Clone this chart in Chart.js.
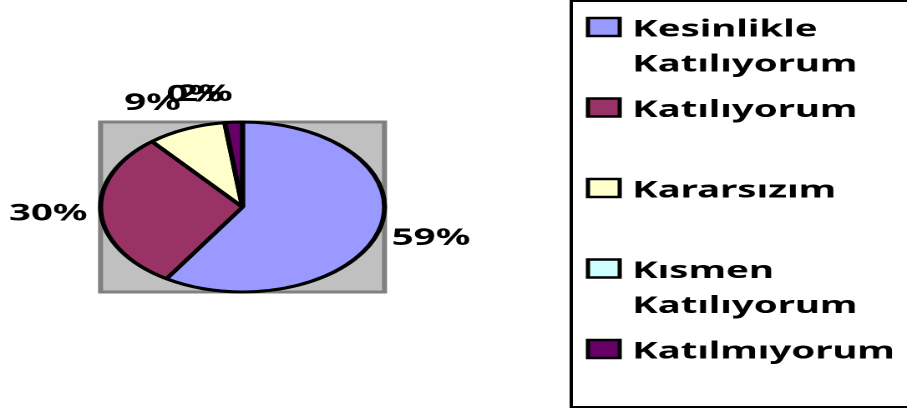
<!DOCTYPE html>
<html>
<head>
<meta charset="utf-8">
<script src="https://cdn.jsdelivr.net/npm/chart.js@4/dist/chart.umd.min.js"></script>
<style>
html, body { margin: 0; padding: 0; background: #fff; overflow: hidden; }
#wrap { width: 907px; height: 409px; overflow: hidden; }
/* el grafico original esta estirado en horizontal */
#chartAnket { transform: scaleX(1.6703); transform-origin: 0 0; }
</style>
</head>
<body>
<div id="wrap"><canvas id="chartAnket" width="543" height="409"></canvas></div>
<script>
// anket sonuçları (%)
const kategoriler = ['Kesinlikle Katılıyorum', 'Katılıyorum', 'Kararsızım', 'Kısmen Katılıyorum', 'Katılmıyorum'];
const yuzdeler = [59, 30, 9, 0, 2];

const renkler = ['#9999FF', '#993366', '#FFFFCC', '#CCFFFF', '#660066'];
const FONT_ETIKET = 'bold 23px "Noto Sans", "Open Sans", sans-serif';
const FONT_LEJANT = 'bold 23px "Noto Sans", "Open Sans", sans-serif';

function satirlaraBol(ctx, metin, maxW) {
    const kelimeler = metin.split(' ');
    const satirlar = [];
    let satir = '';
    kelimeler.forEach(k => {
        const deneme = satir ? satir + ' ' + k : k;
        if (satir && ctx.measureText(deneme).width > maxW) {
            satirlar.push(satir);
            satir = k;
        } else {
            satir = deneme;
        }
    });
    satirlar.push(satir);
    return satirlar;
}

// gri çizim alanı (pastanın arkası)
const plotAlani = {
    id: 'plotAlani',
    beforeDatasetsDraw(chart) {
        const arc = chart.getDatasetMeta(0).data[0];
        if (!arc) return;
        const r = arc.outerRadius;
        const ctx = chart.ctx;
        ctx.save();
        ctx.fillStyle = '#C0C0C0';
        ctx.fillRect(arc.x - r, arc.y - r, 2 * r, 2 * r);
        ctx.strokeStyle = '#808080';
        ctx.lineWidth = 3;
        ctx.strokeRect(arc.x - r, arc.y - r, 2 * r, 2 * r);
        ctx.restore();
    }
};

// yüzde etiketleri dilimlerin dışında (sol/sağ tarafa göre hizalı)
const dilimEtiketleri = {
    id: 'dilimEtiketleri',
    afterDatasetsDraw(chart) {
        const meta = chart.getDatasetMeta(0);
        const veri = chart.data.datasets[0].data;
        const toplam = veri.reduce((a, b) => a + b, 0);
        const ctx = chart.ctx;
        ctx.save();
        ctx.font = FONT_ETIKET;
        ctx.fillStyle = '#000';
        ctx.textBaseline = 'middle';
        meta.data.forEach((arc, i) => {
            const metin = Math.round(veri[i] / toplam * 100) + '%';
            const aci = (arc.startAngle + arc.endAngle) / 2;
            const dx = Math.cos(aci), dy = Math.sin(aci);
            const d = arc.outerRadius + 8;
            const x = arc.x + dx * d;
            const y = arc.y + dy * d + dy * 20;
            ctx.textAlign = dx < 0 ? 'right' : 'left';
            ctx.fillText(metin, x, y);
        });
        ctx.restore();
    }
};

// lejant kutusu (sağda)
const lejant = {
    id: 'lejant',
    afterDraw(chart) {
        const ctx = chart.ctx;
        const kutuX = 342, ilkY = 28, aralik = 80.5, satirAraligi = 35;
        ctx.save();
        ctx.strokeStyle = '#000';
        ctx.lineWidth = 2;
        ctx.strokeRect(kutuX, 1, 300, 406);

        ctx.font = FONT_LEJANT;
        ctx.textAlign = 'left';
        ctx.textBaseline = 'alphabetic';
        chart.data.labels.forEach((etiket, i) => {
            const y = ilkY + aralik * i;
            ctx.fillStyle = chart.data.datasets[0].backgroundColor[i];
            ctx.fillRect(352, y - 10, 19, 18);
            ctx.lineWidth = 2.5;
            ctx.strokeStyle = '#000';
            ctx.strokeRect(352, y - 10, 19, 18);

            ctx.fillStyle = '#000';
            const satirlar = satirlaraBol(ctx, etiket, 543 - 378 - 4);
            satirlar.forEach((s, j) => {
                ctx.fillText(s, 378.5, y + 8.5 + j * satirAraligi);
            });
        });
        ctx.restore();
    }
};

const ctx = document.getElementById('chartAnket').getContext('2d');
const chartAnket = new Chart(ctx, {
    type: 'pie',
    data: {
        labels: kategoriler,
        datasets: [{
            data: yuzdeler,
            backgroundColor: renkler,
            borderColor: '#000',
            borderWidth: 3
        }]
    },
    options: {
        responsive: false,
        devicePixelRatio: 2,
        animation: false,
        layout: {
            padding: { left: 58.7, top: 120.5, right: 311.3, bottom: 115.5 }
        },
        plugins: {
            legend: { display: false },
            tooltip: { enabled: false }
        }
    },
    plugins: [plotAlani, dilimEtiketleri, lejant]
});
</script>
</body>
</html>
